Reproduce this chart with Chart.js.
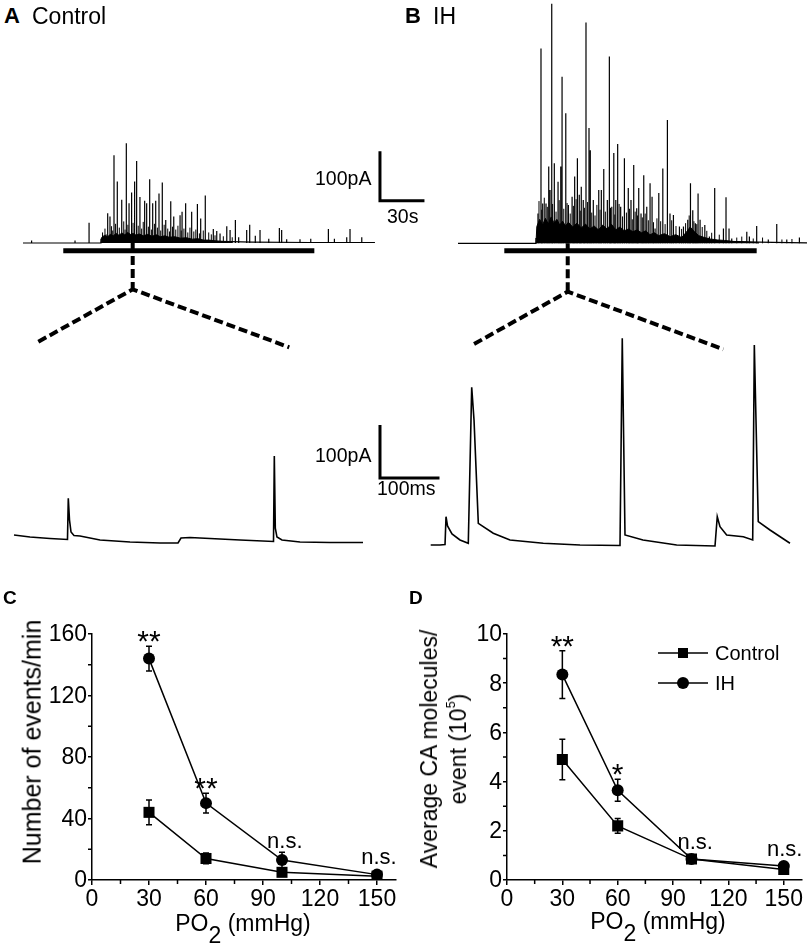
<!DOCTYPE html>
<html>
<head>
<meta charset="utf-8">
<script src="https://cdn.jsdelivr.net/npm/chart.js@4.4.1/dist/chart.umd.min.js"></script>
<style>
  body { margin:0; width:810px; height:952px; background:#fff; position:relative; overflow:hidden;
         font-family:"Liberation Sans", Arial, Helvetica, sans-serif; color:#000; }
  canvas { position:absolute; display:block; }
  .txt { position:absolute; white-space:nowrap; line-height:1; }
  .rot { transform: translate(-50%,-50%) rotate(-90deg); line-height:1.15; text-align:center; }
  .ctr { transform: translateX(-50%); }
  .sub { position:relative; top:12px; }
  sup { font-size:55%; line-height:0; vertical-align:0; position:relative; top:-0.9em; }
</style>
</head>
<body>
<canvas id="aTop" width="450" height="240" style="left:0;top:120px"></canvas>
<canvas id="bTop" width="400" height="360" style="left:410px;top:0"></canvas>
<canvas id="aZoom" width="450" height="200" style="left:0;top:360px"></canvas>
<canvas id="bZoom" width="400" height="240" style="left:410px;top:320px"></canvas>
<canvas id="cChart" width="410" height="352" style="left:0;top:600px"></canvas>
<canvas id="dChart" width="400" height="352" style="left:410px;top:600px"></canvas>

<div class="txt" style="left:4px;top:5px;font-size:22px;font-weight:bold">A</div>
<div class="txt" style="left:32px;top:5px;font-size:23px">Control</div>
<div class="txt" style="left:405px;top:5px;font-size:22px;font-weight:bold">B</div>
<div class="txt" style="left:433px;top:5px;font-size:23px">IH</div>

<div class="txt" style="left:315px;top:169px;font-size:19.5px">100pA</div>
<div class="txt" style="left:387px;top:207px;font-size:19.5px">30s</div>
<div class="txt" style="left:315px;top:446px;font-size:19.5px">100pA</div>
<div class="txt" style="left:377px;top:479px;font-size:19.5px">100ms</div>

<div class="txt" style="left:3px;top:588px;font-size:19px;font-weight:bold">C</div>
<div class="txt" style="left:409px;top:588px;font-size:19px;font-weight:bold">D</div>

<div class="txt rot" style="left:32px;top:742px;font-size:25px">Number of events/min</div>
<div class="txt rot" style="left:444px;top:749px;font-size:23px;line-height:29px">Average CA molecules/<br>event (10<sup>5</sup>)</div>

<div class="txt ctr" style="left:243px;top:912px;font-size:23px">PO<span class="sub">2</span> (mmHg)</div>
<div class="txt ctr" style="left:658px;top:910px;font-size:23px">PO<span class="sub">2</span> (mmHg)</div>

<script>
const FONT = '"Liberation Sans", Arial, Helvetica, sans-serif';

/* A: whole recording, large secretory events (time s, peak pA) */
const aSpikeT = [6.0, 36.3, 46.1, 59.1, 60.7, 63.5, 65.8, 68.9, 72.1, 74.0, 75.8, 77.9, 79.3, 81.6, 84.9, 86.3, 88.4, 90.5, 92.6, 94.9, 97.2, 99.6, 103.1, 105.2, 109.6, 111.0, 113.5, 117.7, 121.7, 124.0, 127.2, 132.8, 135.2, 137.5, 142.2, 144.5, 148.2, 150.5, 156.1, 158.2, 162.1, 165.4, 171.5, 178.9, 180.5, 184.0, 193.3, 200.8, 213.1, 217.3, 225.9, 228.2, 236.4];
const aSpikeAmp = [5, 5, 42, 62, 55, 183, 128, 90, 208, 83, 105, 128, 171, 96, 88, 83, 133, 83, 88, 103, 126, 48, 87, 55, 58, 65, 83, 65, 81, 51, 99, 29, 25, 20, 35, 27, 48, 12, 27, 38, 15, 27, 9, 31, 27, 8, 8, 9, 29, 9, 12, 29, 12];
/* A: small events inside the burst */
const aSmallT = [55.5, 57.2, 58.0, 61.8, 62.6, 64.6, 67.2, 70.3, 71.2, 73.2, 76.8, 80.4, 82.8, 83.9, 87.5, 89.6, 91.7, 93.8, 96.1, 98.5, 101.0, 102.2, 104.3, 106.6, 108.1, 110.4, 112.3, 115.0, 116.5, 119.2, 120.6, 123.1, 125.8, 129.6, 131.4, 134.0, 139.8, 146.0];
const aSmallAmp = [22, 30, 18, 35, 26, 40, 32, 45, 28, 38, 42, 36, 30, 44, 34, 28, 40, 32, 26, 38, 30, 24, 34, 28, 36, 26, 30, 22, 32, 24, 28, 20, 26, 22, 18, 16, 14, 12];
const aBaseT = [0, 54.0, 54.4, 60, 80, 100, 130, 160, 200, 245.6];
const aBaseI = [0, 0, 8, 10, 9, 7, 4, 2, 1, 1];
const aBandT = [54.4, 55, 57, 59, 61, 63, 65, 67, 69, 71, 73, 75, 77, 79, 81, 84, 87, 90, 93, 96, 99, 102, 106, 110, 114, 118, 122, 126, 130, 135, 140, 146];
const aBandI = [0, 12, 16, 13, 18, 15, 20, 16, 21, 17, 22, 18, 20, 16, 19, 15, 18, 14, 17, 13, 15, 12, 13, 10, 11, 8, 9, 6, 6, 4, 3, 1];
const aStim = [28.1, 203.3];

/* B: whole recording */
const bSpikeT = [55.8, 57.9, 59.1, 61.4, 63.3, 64.2, 65.4, 67.2, 69.8, 71.7, 72.6, 75.2, 77.0, 79.6, 81.4, 83.3, 84.6, 86.0, 87.4, 89.3, 91.4, 92.3, 94.4, 98.2, 100.0, 101.7, 104.2, 105.6, 107.3, 108.7, 110.1, 111.4, 113.5, 116.1, 118.8, 120.7, 122.6, 124.7, 126.1, 127.7, 129.6, 131.7, 134.0, 135.4, 137.5, 140.1, 142.9, 146.1, 147.9, 150.3, 154.5, 157.3, 160.3, 162.2, 163.8, 165.6, 167.5, 168.9, 172.2, 175.4, 179.1, 185.2, 187.0, 189.1, 191.0, 201.5, 203.3, 208.4, 216.5, 222.4, 229.4, 238.2];
const bSpikeAmp = [62, 406, 83, 83, 160, 111, 499, 167, 128, 160, 347, 271, 80, 97, 139, 177, 101, 118, 90, 460, 240, 194, 90, 111, 111, 155, 90, 389, 76, 188, 90, 207, 76, 177, 115, 90, 163, 73, 115, 62, 142, 76, 125, 97, 31, 105, 156, 257, 62, 59, 35, 35, 49, 125, 69, 42, 104, 49, 38, 14, 115, 31, 96, 31, 10, 24, 14, 36, 8, 40, 8, 12];
const bSmallT = [56.5, 58.4, 60.2, 62.3, 66.0, 68.4, 70.6, 73.8, 76.1, 78.3, 80.5, 82.4, 85.3, 88.2, 90.4, 93.3, 95.6, 96.9, 99.1, 102.8, 106.4, 109.4, 112.4, 114.8, 117.5, 119.7, 121.6, 123.6, 125.3, 128.6, 130.6, 132.8, 136.4, 138.8, 141.4, 144.5, 149.1, 152.1, 156.0, 158.8, 161.3, 164.6, 166.6, 170.4, 173.6, 177.0, 182.3, 194.5, 198.0, 206.0, 212.5, 226.0, 233.0];
const bSmallAmp = [88, 70, 95, 76, 82, 66, 90, 72, 84, 62, 78, 92, 68, 74, 86, 64, 58, 80, 70, 66, 74, 60, 82, 56, 64, 72, 50, 66, 58, 54, 62, 48, 44, 52, 46, 40, 48, 36, 30, 42, 58, 46, 40, 34, 26, 22, 18, 12, 14, 10, 12, 8, 9];
const bBaseT = [0, 54.0, 54.4, 70, 100, 140, 180, 220, 243.5];
const bBaseI = [0, 0, 10, 12, 10, 7, 4, 2, 1];
const bBandT = [54.4, 55, 57, 59, 61, 63, 65, 67, 69, 71, 73, 75, 77, 80, 83, 86, 89, 92, 95, 98, 101, 104, 107, 110, 113, 116, 119, 122, 125, 128, 131, 134, 137, 140, 144, 148, 152, 156, 159, 162, 165, 168, 172, 176, 181, 186, 192, 200, 210];
const bBandI = [0, 35, 50, 38, 52, 40, 55, 42, 50, 38, 46, 36, 44, 34, 42, 32, 40, 30, 36, 28, 38, 30, 40, 28, 34, 26, 30, 24, 28, 22, 26, 18, 22, 16, 20, 14, 18, 12, 22, 34, 24, 16, 12, 9, 7, 6, 4, 3, 1];
const bStim = [32.3, 208.4];

/* expanded traces (time ms, current pA) */
const aZoomT = [0, 27.6, 62, 92.2, 93.6, 95.7, 98.3, 103.4, 113.8, 148.3, 200, 251.7, 282.8, 287.9, 303.4, 337.9, 389.7, 447.4, 448.8, 450.5, 453.4, 462, 493.1, 544.8, 601.7];
const aZoomI = [15.5, 11.6, 8.7, 6.8, 86.6, 44.6, 21.3, 14.5, 13.6, 5.8, 1.9, 0, 0, 9.7, 10.7, 8.7, 5.8, 2.9, 168.6, 29, 11.6, 5.8, 1.9, 1, 1];
const bZoomT = [0, 16, 24.7, 26.4, 29, 36.7, 50.5, 64.8, 70.7, 74.7, 82.1, 107.9, 136.7, 194.1, 257.4, 326.4, 330.3, 335, 366, 424.1, 490.2, 494.1, 498.8, 510.3, 539, 555.2, 558, 564.8, 585, 619.5];
const bZoomI = [0, 0, 1, 54.8, 36.8, 21.3, 9.7, 3.3, 305.6, 242, 42, 22.7, 9.7, 3.3, 0, -1, 400.6, 19.4, 9.7, 0, -1.9, 54.8, 35.5, 19.4, 16.1, 9.7, 387.6, 45.2, 29, 3.3];

/* C and D summary data */
const po2 = [30, 60, 100, 150];
const ihEvents = [144, 50, 13, 3.5];
const ihEventsSem = [8, 6.5, 5, 1];
const ctrlEvents = [44, 14, 5, 2.5];
const ctrlEventsSem = [8, 3.5, 1.5, 1];
const ihMolecules = [8.35, 3.65, 0.85, 0.57];
const ihMoleculesSem = [0.97, 0.45, 0.1, 0.06];
const ctrlMolecules = [4.9, 2.2, 0.85, 0.43];
const ctrlMoleculesSem = [0.82, 0.3, 0.1, 0.06];
const xTicks = [0, 30, 60, 90, 120, 150];
const xMinor = [15, 45, 75, 105, 135];
const cTicks = [0, 40, 80, 120, 160];
const cMinor = [20, 60, 100, 140];
const dTicks = [0, 2, 4, 6, 8, 10];
const dMinor = [1, 3, 5, 7, 9];
const cNoteText = ['**', '**', 'n.s.', 'n.s.'];
const cNoteX = [30, 60, 101.5, 151];
const cNoteY = [159, 63.7, 24.7, 14.3];
const dNoteText = ['**', '*', 'n.s.', 'n.s.'];
const dNoteX = [30, 60, 102, 150.5];
const dNoteY = [9.76, 4.55, 1.5, 1.22];

/* helpers */
const pts = (ts, is) => ts.map((t, k) => ({ x: t, y: is[k] }));
const spikes = (ts, amps) => ts.flatMap((t, k) => [{ x: t, y: 0 }, { x: t, y: amps[k] }, { x: t, y: null }]);
const line = (data, extra) => Object.assign({ data, borderColor: '#000', borderWidth: 1, pointRadius: 0, fill: false, spanGaps: false }, extra || {});
const dashed = { borderWidth: 4, borderDash: [9, 4], borderCapStyle: 'butt', borderJoinStyle: 'miter' };
const barStyle = { borderWidth: 3, borderCapStyle: 'square', borderJoinStyle: 'miter' };

function traceChart(id, xr, yr, datasets) {
  return new Chart(document.getElementById(id), {
    type: 'line',
    data: { datasets },
    options: {
      responsive: false, animation: false, events: [],
      layout: { padding: 0 },
      plugins: { legend: { display: false }, tooltip: { enabled: false } },
      elements: { line: { tension: 0 } },
      scales: {
        x: { type: 'linear', display: false, min: xr[0], max: xr[1] },
        y: { type: 'linear', display: false, min: yr[0], max: yr[1] }
      }
    }
  });
}

/* A top */
traceChart('aTop', [-16.05, 297.97], [-243.75, 256.25], [
  line(pts(aBandT, aBandI), { fill: 'origin', backgroundColor: '#000' }),
  line(pts(aBaseT, aBaseI), { borderWidth: 1.2 }),
  line(spikes(aSmallT, aSmallAmp), { borderWidth: 1 }),
  line(spikes(aSpikeT, aSpikeAmp), { borderWidth: 1.2 }),
  line([{ x: aStim[0], y: -16.3 }, { x: aStim[1], y: -16.3 }], { borderWidth: 5, borderCapStyle: 'butt' }),
  line([{ x: 76.55, y: 0 }, { x: 76.55, y: -96.5 }], dashed),
  line([{ x: 10.7, y: -205.6 }, { x: 76.55, y: -96.5 }, { x: 185.8, y: -217.3 }], dashed),
  line([{ x: 249.1, y: 188.1 }, { x: 249.1, y: 88.1 }, { x: 279.1, y: 88.1 }], barStyle)
]);

/* B top */
traceChart('bTop', [-33.5, 245.6], [-243.1, 506.9], [
  line(pts(bBandT, bBandI), { fill: 'origin', backgroundColor: '#000' }),
  line(pts(bBaseT, bBaseI), { borderWidth: 1.2 }),
  line(spikes(bSmallT, bSmallAmp), { borderWidth: 1 }),
  line(spikes(bSpikeT, bSpikeAmp), { borderWidth: 1.2 }),
  line([{ x: bStim[0], y: -15.6 }, { x: bStim[1], y: -15.6 }], { borderWidth: 5, borderCapStyle: 'butt' }),
  line([{ x: 76.55, y: 0 }, { x: 76.55, y: -100.8 }], dashed),
  line([{ x: 11.2, y: -209.8 }, { x: 76.55, y: -100.8 }, { x: 185.1, y: -220.8 }], dashed)
]);

/* expanded traces */
traceChart('aZoom', [-24.14, 751.7], [-32.9, 354.7], [
  line(pts(aZoomT, aZoomI), { borderWidth: 1.6 }),
  line([{ x: 631, y: 226 }, { x: 631, y: 126 }, { x: 731, y: 126 }], barStyle)
]);
traceChart('bZoom', [-35.7, 654.0], [-29.1, 436.0], [
  line(pts(bZoomT, bZoomI), { borderWidth: 1.6 })
]);

/* plugins for summary plots */
const errorBars = {
  id: 'errorBars',
  beforeDatasetsDraw(chart) {
    const ctx = chart.ctx, y = chart.scales.y;
    ctx.save();
    ctx.strokeStyle = '#000'; ctx.lineWidth = 1.5;
    chart.data.datasets.forEach((ds, i) => {
      chart.getDatasetMeta(i).data.forEach((pt, j) => {
        const v = ds.data[j].y, e = ds.sem[j];
        const top = y.getPixelForValue(v + e), bot = y.getPixelForValue(v - e);
        ctx.beginPath();
        ctx.moveTo(pt.x, top); ctx.lineTo(pt.x, bot);
        ctx.moveTo(pt.x - 3, top); ctx.lineTo(pt.x + 3, top);
        ctx.moveTo(pt.x - 3, bot); ctx.lineTo(pt.x + 3, bot);
        ctx.stroke();
      });
    });
    ctx.restore();
  }
};
// minor ticks plus tick labels, placed with the scales
const axisExtras = {
  id: 'axisExtras',
  afterDraw(chart, args, opts) {
    const { ctx, scales: { x, y } } = chart;
    ctx.save(); ctx.strokeStyle = '#000'; ctx.fillStyle = '#000'; ctx.lineWidth = 1.5;
    ctx.beginPath();
    opts.x.forEach(v => { const p = x.getPixelForValue(v); ctx.moveTo(p, x.top); ctx.lineTo(p, x.top + 4); });
    opts.y.forEach(v => { const p = y.getPixelForValue(v); ctx.moveTo(y.right, p); ctx.lineTo(y.right - 4, p); });
    ctx.stroke();
    ctx.font = '23px ' + FONT;
    ctx.textAlign = 'center'; ctx.textBaseline = 'middle';
    x.ticks.forEach(t => ctx.fillText(String(t.value), x.getPixelForValue(t.value), x.top + 20));
    ctx.textAlign = 'right';
    y.ticks.forEach(t => ctx.fillText(String(t.value), y.right - 5, y.getPixelForValue(t.value) + 1));
    ctx.restore();
  }
};
const notes = {
  id: 'notes',
  afterDatasetsDraw(chart, args, opts) {
    const { ctx, scales: { x, y } } = chart;
    ctx.save(); ctx.fillStyle = '#000'; ctx.textAlign = 'center'; ctx.textBaseline = 'middle';
    opts.text.forEach((t, i) => {
      const star = t[0] === '*';
      ctx.font = (star ? 30 : 22) + 'px ' + FONT;
      ctx.fillText(t, x.getPixelForValue(opts.x[i]), y.getPixelForValue(opts.y[i]) + (star ? 7.5 : 0));
    });
    ctx.restore();
  }
};
const legendD = {
  id: 'legendD',
  afterDraw(chart, args, opts) {
    if (!opts.labels) return;
    const { ctx, chartArea } = chart;
    ctx.save();
    ctx.strokeStyle = '#000'; ctx.fillStyle = '#000'; ctx.lineWidth = 1.5;
    ctx.font = '20px ' + FONT; ctx.textBaseline = 'middle';
    opts.labels.forEach((lab, i) => {
      const y = chartArea.top + 19 + i * 30, x0 = chartArea.left + 151, xm = x0 + 25;
      ctx.beginPath(); ctx.moveTo(x0, y); ctx.lineTo(x0 + 50, y); ctx.stroke();
      ctx.beginPath();
      if (opts.styles[i] === 'rect') ctx.rect(xm - 5, y - 5, 10, 10);
      else ctx.arc(xm, y, 6, 0, Math.PI * 2);
      ctx.fill();
      ctx.fillText(lab, x0 + 57, y + 1);
    });
    ctx.restore();
  }
};

function summaryChart(id, cfg) {
  return new Chart(document.getElementById(id), {
    type: 'line',
    data: {
      datasets: [
        { data: pts(po2, cfg.ih), sem: cfg.ihSem, borderColor: '#000', borderWidth: 1.5, pointStyle: 'circle', pointRadius: 6, pointBackgroundColor: '#000', pointBorderWidth: 0 },
        { data: pts(po2, cfg.ctrl), sem: cfg.ctrlSem, borderColor: '#000', borderWidth: 1.5, pointStyle: 'rect', pointRadius: 7.8, pointBackgroundColor: '#000', pointBorderWidth: 0 }
      ]
    },
    options: {
      responsive: false, animation: false, events: [],
      layout: { padding: { top: 34, right: cfg.padRight, left: 0, bottom: 0 } },
      elements: { line: { tension: 0 } },
      plugins: {
        legend: { display: false }, tooltip: { enabled: false },
        axisExtras: { x: xMinor, y: cfg.minor },
        notes: cfg.notes,
        legendD: cfg.legend || {}
      },
      scales: {
        x: {
          type: 'linear', min: 0, max: 160,
          afterBuildTicks: s => { s.ticks = xTicks.map(v => ({ value: v })); },
          afterFit: s => { s.height = 72; },
          grid: { drawOnChartArea: false, tickLength: 5, color: '#000', lineWidth: 1.5 },
          border: { color: '#000', width: 1.5 },
          ticks: { display: false }
        },
        y: {
          type: 'linear', min: 0, max: cfg.max,
          afterBuildTicks: s => { s.ticks = cfg.ticks.map(v => ({ value: v })); },
          afterFit: s => { s.width = cfg.yWidth; },
          grid: { drawOnChartArea: false, tickLength: 4, color: '#000', lineWidth: 1.5 },
          border: { color: '#000', width: 1.5 },
          ticks: { display: false }
        }
      }
    },
    plugins: [errorBars, axisExtras, notes, legendD]
  });
}

summaryChart('cChart', {
  ih: ihEvents, ihSem: ihEventsSem, ctrl: ctrlEvents, ctrlSem: ctrlEventsSem,
  max: 160, ticks: cTicks, minor: cMinor, yWidth: 92, padRight: 14,
  notes: { text: cNoteText, x: cNoteX, y: cNoteY }
});
summaryChart('dChart', {
  ih: ihMolecules, ihSem: ihMoleculesSem, ctrl: ctrlMolecules, ctrlSem: ctrlMoleculesSem,
  max: 10, ticks: dTicks, minor: dMinor, yWidth: 97, padRight: 1,
  notes: { text: dNoteText, x: dNoteX, y: dNoteY },
  legend: { labels: ['Control', 'IH'], styles: ['rect', 'circle'] }
});
</script>
</body>
</html>
